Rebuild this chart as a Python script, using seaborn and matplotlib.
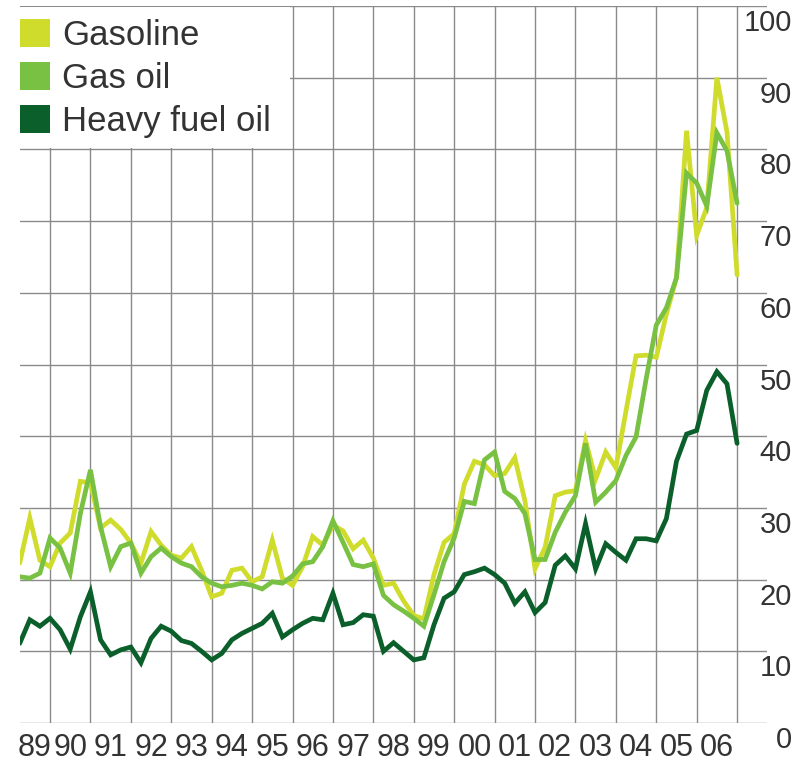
import pandas as pd
import seaborn as sns
import matplotlib.pyplot as plt
from matplotlib.patches import Rectangle, Patch
from matplotlib.transforms import offset_copy

# quarterly prices, 1989 Q1 .. 2006 Q4
years = list(range(1989, 2007))
quarters = [1, 2, 3, 4]

gasoline = [22.3, 28.6, 22.7, 21.8, 25.1, 26.5, 33.7, 33.5, 27.2, 28.3, 27.0, 25.1,
            22.3, 26.7, 24.8, 23.4, 23.0, 24.6, 21.3, 17.6, 18.1, 21.3, 21.6, 19.7,
            20.4, 25.5, 20.2, 19.2, 21.8, 26.0, 24.8, 27.6, 26.8, 24.3, 25.5, 23.0,
            19.2, 19.5, 17.0, 15.0, 14.5, 20.7, 25.2, 26.4, 33.3, 36.5, 36.0, 34.5,
            34.8, 37.0, 31.0, 21.5, 24.5, 31.7, 32.2, 32.4, 39.4, 34.0, 37.8, 35.6,
            43.5, 51.2, 51.3, 51.0, 57.0, 62.1, 82.6, 68.0, 71.9, 90.0, 82.4, 62.5]

gas_oil = [20.4, 20.2, 20.9, 25.8, 24.4, 20.9, 29.2, 35.3, 27.4, 21.8, 24.6, 25.1,
           20.9, 23.2, 24.4, 23.2, 22.3, 21.8, 20.4, 19.5, 19.0, 19.2, 19.5, 19.2,
           18.7, 19.7, 19.5, 20.5, 22.2, 22.5, 24.6, 28.2, 25.2, 22.1, 21.8, 22.2,
           17.8, 16.5, 15.6, 14.6, 13.5, 17.9, 22.5, 25.8, 30.9, 30.6, 36.7, 37.8,
           32.3, 31.3, 29.2, 22.8, 22.8, 26.6, 29.4, 31.7, 39.0, 30.8, 32.2, 33.8,
           37.3, 39.9, 48.0, 55.5, 57.9, 62.1, 76.7, 75.3, 72.1, 82.3, 79.8, 72.5]

heavy_fuel_oil = [11.1, 14.4, 13.5, 14.6, 13.0, 10.3, 14.8, 18.3, 11.6, 9.5, 10.2, 10.6,
                  8.4, 11.8, 13.5, 12.8, 11.5, 11.1, 10.0, 8.8, 9.7, 11.6, 12.5, 13.2,
                  13.9, 15.3, 12.0, 13.0, 13.9, 14.6, 14.4, 18.1, 13.7, 14.0, 15.1, 14.9,
                  10.0, 11.2, 10.0, 8.8, 9.1, 13.7, 17.4, 18.3, 20.7, 21.1, 21.6, 20.7,
                  19.5, 16.7, 18.3, 15.4, 16.8, 22.0, 23.3, 21.5, 27.8, 21.5, 25.0, 23.8,
                  22.7, 25.7, 25.7, 25.4, 28.5, 36.5, 40.3, 40.8, 46.4, 49.0, 47.3, 39.0]

products = ['Gasoline', 'Gas oil', 'Heavy fuel oil']
colors = ['#d0dc2c', '#78c142', '#0b5f2b']
year_labels = ['89', '90', '91', '92', '93', '94', '95', '96', '97',
               '98', '99', '00', '01', '02', '03', '04', '05', '06']
y_ticks = list(range(0, 101, 10))

# each quarter is plotted at its end
t = [y + q / 4 for y in years for q in quarters]
df = pd.DataFrame({
    't': t * 3,
    'price': gasoline + gas_oil + heavy_fuel_oil,
    'product': [p for p in products for _ in t],
})

sns.set_style('white')
plt.rcParams['font.family'] = ['Liberation Sans', 'DejaVu Sans']
plt.rcParams['lines.solid_joinstyle'] = 'miter'
txt = '#333333'

fig = plt.figure(figsize=(8.01, 7.66), dpi=100)
ax = fig.add_axes([19.7 / 801, 43 / 766, (767 - 19.7) / 801, (723 - 6) / 766])

grid = dict(color='#8a8a8a', lw=1.0, zorder=0)
for v in y_ticks:
    ax.axhline(v, **grid)
for yr in range(1990, 2008):
    ax.axvline(yr, **grid)

# white box behind the legend
ax.add_patch(Rectangle((1989.25, 80.2), 1995.93 - 1989.25, 19.6,
                       facecolor='white', edgecolor='none', zorder=1))

sns.lineplot(data=df, x='t', y='price', hue='product', hue_order=products,
             palette=colors, linewidth=3.4, legend=False, ax=ax, zorder=2)

ax.set_xlim(1989.25, 2007.74)
ax.set_ylim(0, 100)
ax.set_xticks([1989.625] + [y + 0.5 for y in years[1:]], year_labels)
ax.tick_params(axis='x', length=0, pad=7, labelsize=22, labelcolor=txt)
ax.set_yticks([])
ax.set_xlabel('')
ax.set_ylabel('')
for s in ax.spines.values():
    s.set_visible(False)

trans = offset_copy(ax.get_yaxis_transform(), fig=fig, x=25, y=-17, units='dots')
for v in y_ticks:
    ax.text(1.0, v, str(v), transform=trans, ha='right', va='center',
            fontsize=21, color=txt, clip_on=False)

handles = [Patch(facecolor=c, edgecolor='none') for c in colors]
ax.legend(handles, products, loc='upper left', bbox_to_anchor=(0, 1 - 13 / 717),
          frameon=False, fontsize=25, handlelength=0.87, handleheight=0.87,
          handletextpad=0.35, labelspacing=0.28, borderaxespad=0,
          borderpad=0, labelcolor=txt)

fig.savefig('out.png', dpi=100)
